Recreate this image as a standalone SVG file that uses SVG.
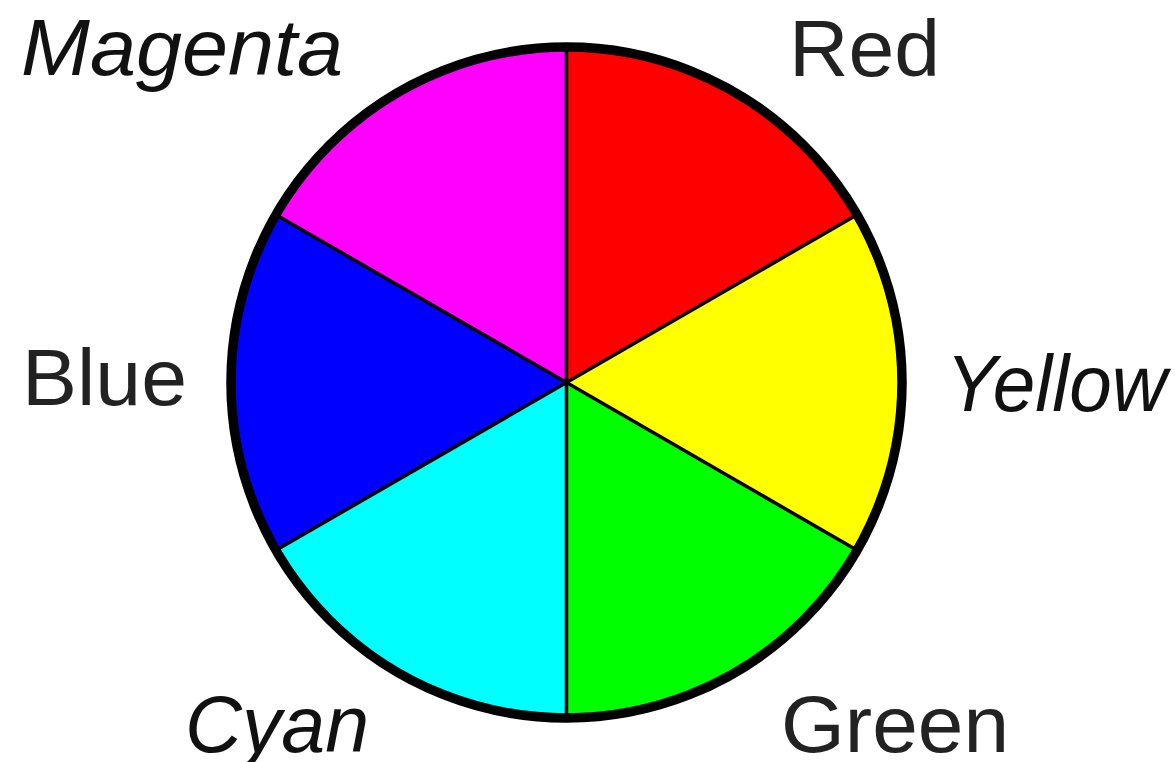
<svg xmlns="http://www.w3.org/2000/svg" width="1175" height="762" viewBox="0 0 1175 762">
<style>
.lbl{font-family:"Liberation Sans",Arial,sans-serif;font-size:80px;fill:#222}
.it{font-style:italic;fill:#111}
.div{stroke:#000;stroke-width:3.5;fill:none}
</style>
<rect width="1175" height="762" fill="#fff"/>
<g id="wheel">
<g id="red"><path d="M566.5,382.5 L566.5,47 A335.5,335.5 0 0 1 857.05,214.75 Z" fill="#ff0000"/></g>
<g id="yellow"><path d="M566.5,382.5 L857.05,214.75 A335.5,335.5 0 0 1 857.05,550.25 Z" fill="#ffff00"/></g>
<g id="green"><path d="M566.5,382.5 L857.05,550.25 A335.5,335.5 0 0 1 566.5,718 Z" fill="#00ff00"/></g>
<g id="cyan"><path d="M566.5,382.5 L566.5,718 A335.5,335.5 0 0 1 275.95,550.25 Z" fill="#00ffff"/></g>
<g id="blue"><path d="M566.5,382.5 L275.95,550.25 A335.5,335.5 0 0 1 275.95,214.75 Z" fill="#0000ff"/></g>
<g id="magenta"><path d="M566.5,382.5 L275.95,214.75 A335.5,335.5 0 0 1 566.5,47 Z" fill="#ff00ff"/></g>
</g>
<g id="connectors">
<line class="div" x1="566.5" y1="47" x2="566.5" y2="718"/>
<line class="div" x1="857.05" y1="214.75" x2="275.95" y2="550.25"/>
<line class="div" x1="857.05" y1="550.25" x2="275.95" y2="214.75"/>
</g>
<circle cx="566.5" cy="382.5" r="335.5" fill="none" stroke="#000" stroke-width="9.5"/>
<g id="labels">
<text class="lbl it" x="21" y="75" textLength="322" lengthAdjust="spacingAndGlyphs">Magenta</text>
<text class="lbl" x="789" y="76" textLength="151" lengthAdjust="spacingAndGlyphs">Red</text>
<text class="lbl" x="22" y="405" textLength="165" lengthAdjust="spacingAndGlyphs">Blue</text>
<text class="lbl it" x="946" y="411" textLength="221" lengthAdjust="spacingAndGlyphs">Yellow</text>
<text class="lbl it" x="185" y="752" textLength="184" lengthAdjust="spacingAndGlyphs">Cyan</text>
<text class="lbl" x="781" y="752" textLength="228" lengthAdjust="spacingAndGlyphs">Green</text>
</g>
</svg>
